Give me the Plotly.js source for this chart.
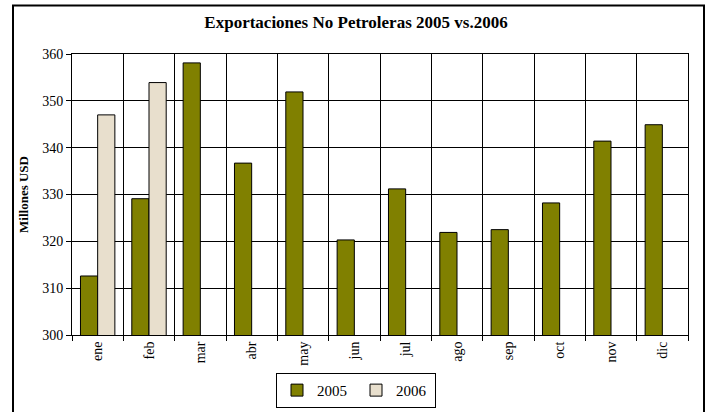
<!DOCTYPE html>
<html>
<head>
<meta charset="utf-8">
<script src="https://cdn.plot.ly/plotly-3.0.1.min.js"></script>
<style>
html,body{margin:0;padding:0;background:#fff;}
#chart{width:712px;height:412px;}
</style>
</head>
<body>
<div id="chart"></div>
<script>
const months = ["ene","feb","mar","abr","may","jun","jul","ago","sep","oct","nov","dic"];
const values2005 = [312.6, 329.1, 358.1, 336.7, 351.9, 320.3, 331.2, 321.9, 322.5, 328.2, 341.4, 344.9];
const months2006 = ["ene","feb"];
const values2006 = [347.0, 353.9];

const serif = "Liberation Serif, Times New Roman, serif";

const traces = [
  {type:"bar", name:"2005", x:months, y:values2005,
   marker:{color:"#808000", line:{color:"#000", width:1}}},
  {type:"bar", name:"2006", x:months2006, y:values2006,
   marker:{color:"#e8dfcd", line:{color:"#000", width:1}}}
];

const layout = {
  width:712, height:412,
  margin:{l:72, r:24, t:54, b:77, autoexpand:false},
  paper_bgcolor:"#fff", plot_bgcolor:"#fff",
  font:{family:serif, color:"#000", size:14},
  title:{text:"<b>Exportaciones No Petroleras 2005 vs.2006</b>", x:0.5, xanchor:"center", y:0.947, yanchor:"middle",
         font:{family:serif, size:17, color:"#000"}},
  barmode:"group", bargap:0.33, bargroupgap:0,
  xaxis:{type:"category", categoryorder:"array", categoryarray:months,
         tickangle:-90, tickson:"boundaries", ticks:"outside", ticklen:5, tickcolor:"#000",
         showgrid:true, gridcolor:"#000", gridwidth:1, automargin:false,
         showline:true, linecolor:"#000", linewidth:1, mirror:true,
         tickfont:{family:serif, size:14, color:"#000"}},
  yaxis:{range:[300,360], dtick:10, ticks:"outside", ticklen:5, tickcolor:"#000",
         showgrid:true, gridcolor:"#000", gridwidth:1, automargin:false,
         showline:true, linecolor:"#000", linewidth:1, mirror:true, zeroline:false,
         tickfont:{family:serif, size:14, color:"#000"},
         title:{text:"<b>Millones USD</b>", standoff:10, font:{family:serif, size:13, color:"#000"}}},
  legend:{orientation:"h", x:0.5, xanchor:"center", xref:"container", y:0.095, yanchor:"top", yref:"container",
          bordercolor:"#000", borderwidth:1, bgcolor:"#fff",
          font:{family:serif, size:15, color:"#000"}, itemwidth:30, entrywidth:34, entrywidthmode:"pixels",
          tracegroupgap:0}
};
// outer frame (left, top, right) in paper coords
const pw = 712-72-24, ph = 412-54-77;
const px = v => (v-72)/pw, py = v => (412-77-v)/ph;
layout.shapes = [{type:"path", xref:"paper", yref:"paper",
  path:`M ${px(13)} ${py(420)} L ${px(13)} ${py(5.5)} L ${px(704)} ${py(5.5)} L ${px(704)} ${py(420)}`,
  line:{color:"#000", width:2}}];

Plotly.newPlot("chart", traces, layout, {displayModeBar:false, staticPlot:true});
</script>
</body>
</html>
